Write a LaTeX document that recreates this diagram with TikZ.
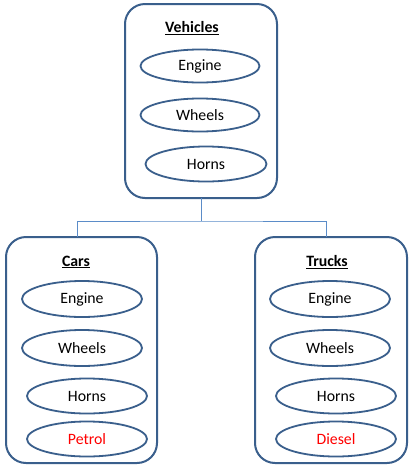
\documentclass[tikz,border=0pt]{standalone}
\usepackage{fontspec}
\setmainfont{Carlito}
\usetikzlibrary{shapes.geometric}
\definecolor{outl}{HTML}{3A5F8C}
\definecolor{conn}{HTML}{5B8CC8}
\begin{document}
\begin{tikzpicture}[x=1pt,y=-1pt,
  grp/.style={draw=outl,line width=2pt,rounded corners=20pt,fill=white},
  part/.style={draw=outl,line width=1.8pt,ellipse,minimum width=119pt,minimum height=33pt,inner sep=0pt,font=\fontsize{15.8}{18}\selectfont},
  ttl/.style={font=\fontsize{15.8}{18}\selectfont\bfseries,inner sep=0pt},
  link/.style={draw=conn,line width=1pt}]
\useasboundingbox (0,0) rectangle (412,467);
% boxes
\draw[grp] (125,4) rectangle (277,198);
\draw[grp] (6,237) rectangle (157,463);
\draw[grp] (255,237) rectangle (407,463);
\coordinate (vb) at (201,198);
\coordinate (cb) at (77,237);
\coordinate (tb) at (326,237);
\coordinate (mid) at (201,221);
\draw[link] (vb) -- (mid);
\draw[link] (cb) |- (mid) -| (tb);
% titles
\node[ttl] (tv) at (192,28) {\underline{Vehicles}};
\node[ttl] (tc) at (76,262) {\underline{Cars}};
\node[ttl] (tt) at (327,262) {\underline{Trucks}};
% vehicles
\node[part] (ve) at (200,66) {Engine};
\node[part] (vw) at (200,115) {Wheels};
\node[part,minimum width=121pt,minimum height=35pt] (vh) at (206,164) {Horns};
% cars
\node[part,minimum width=120pt,minimum height=36pt] (ce) at (82,299) {Engine};
\node[part,minimum width=120pt,minimum height=36pt] (cw) at (82,348) {Wheels};
\node[part,minimum width=120pt,minimum height=35pt] (ch) at (87,396) {Horns};
\node[part,minimum width=120pt,minimum height=35pt,text=red] (cp) at (87,439) {Petrol};
% trucks
\node[part,minimum width=120pt,minimum height=36pt] (te) at (330,299) {Engine};
\node[part,minimum width=120pt,minimum height=36pt] (tw) at (330,348) {Wheels};
\node[part,minimum width=120pt,minimum height=35pt] (th) at (336,396) {Horns};
\node[part,minimum width=120pt,minimum height=35pt,text=red] (td) at (336,439) {Diesel};
\end{tikzpicture}
\end{document}
